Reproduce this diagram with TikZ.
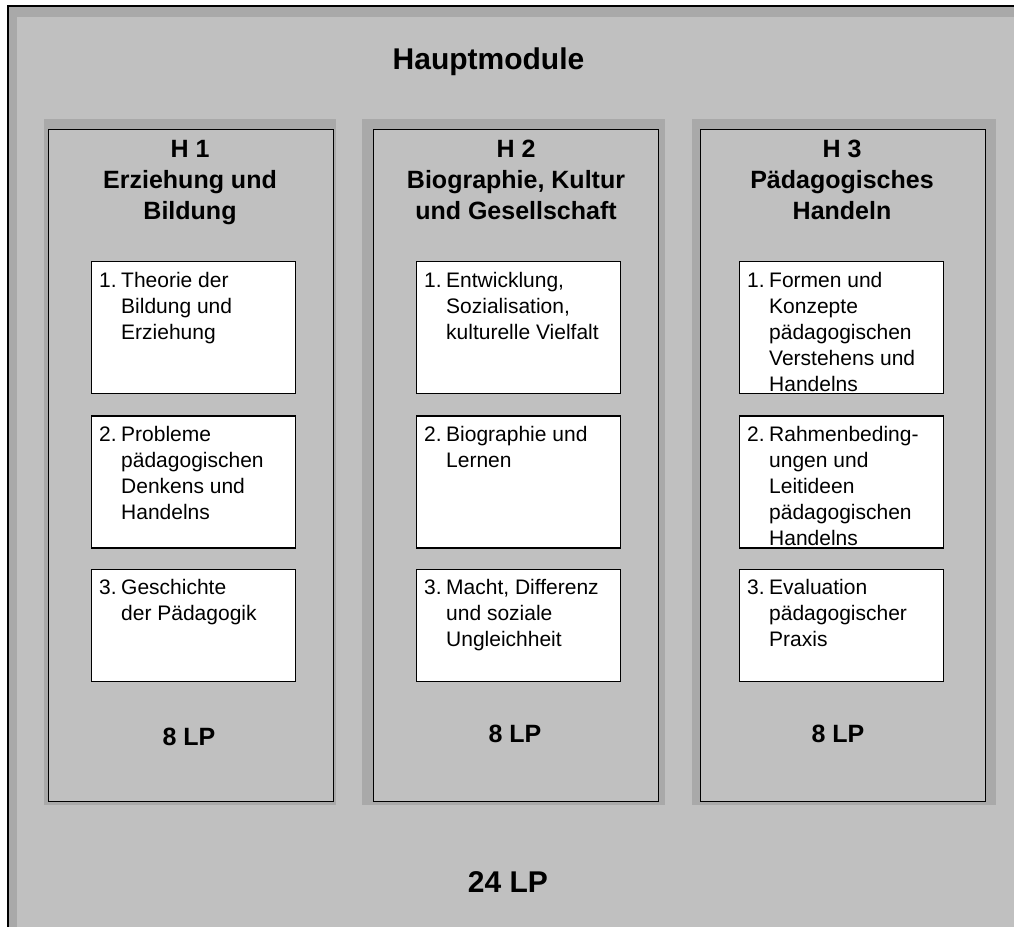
\documentclass[tikz,border=0pt]{standalone}
\usepackage{fontspec}
\setmainfont{Liberation Sans}
\usetikzlibrary{positioning}
\definecolor{panelgray}{HTML}{C0C0C0}
\definecolor{shadegray}{HTML}{A9A9A9}
\newcommand{\modtext}[2]{\makebox[22pt][l]{#1}\begin{tabular}[t]{@{}l@{}}#2\end{tabular}}

\begin{document}
\begin{tikzpicture}[x=1pt,y=-1pt,
  colbox/.style={draw,line width=1.3pt,fill=panelgray,anchor=north west,inner sep=0pt,
                 minimum width=285pt,minimum height=672pt},
  modbox/.style={draw,line width=1.3pt,fill=white,anchor=north west,inner sep=0pt,
                 minimum width=204pt,minimum height=132pt},
  modtext/.style={anchor=north west,inner sep=0pt,font=\fontsize{21}{26}\selectfont},
  head/.style={anchor=north,inner sep=0pt,align=center,
               font=\bfseries\fontsize{25}{31}\selectfont},
  lp/.style={anchor=base,inner sep=0pt,font=\bfseries\fontsize{25}{31}\selectfont},
  biglp/.style={lp,font=\bfseries\fontsize{30}{36}\selectfont},
  node distance=20pt]
\useasboundingbox (0,0) rectangle (1014,926);
\clip (0,0) rectangle (1014,926);
% outer frame
\fill[shadegray] (8,6) rectangle (1020,940);
\fill[panelgray] (17,17) rectangle (1020,940);
\draw[line width=1.5pt] (8,940) -- (8,6) -- (1020,6);
\node[biglp] (title) at (488.5,69) {Hauptmodule};
% column shadows
\fill[shadegray] (44,119) rectangle (336,805);
\fill[shadegray] (362,119) rectangle (665,805);
\fill[shadegray] (692,119) rectangle (996,805);
% columns
\node[colbox] (h1) at (48,129) {};
\node[colbox] (h2) at (373,129) {};
\node[colbox] (h3) at (700,129) {};
\node[head] (h1head) at (190,140) {H 1\\Erziehung und\\Bildung};
\node[head] (h2head) at (516,140) {H 2\\Biographie, Kultur\\und Gesellschaft};
\node[head] (h3head) at (842,140) {H 3\\Pädagogisches\\Handeln};
% module boxes
\node[modbox] (h1a) at (91,261) {};
\node[modbox,below=21pt of h1a] (h1b) {};
\node[modbox,below=of h1b,minimum height=112pt] (h1c) {};
\node[modbox] (h2a) at (416,261) {};
\node[modbox,below=21pt of h2a] (h2b) {};
\node[modbox,below=of h2b,minimum height=112pt] (h2c) {};
\node[modbox] (h3a) at (739,261) {};
\node[modbox,below=21pt of h3a] (h3b) {};
\node[modbox,below=of h3b,minimum height=112pt] (h3c) {};
% module texts
\node[modtext] (h1at) at ([xshift=8pt,yshift=-7.8pt]h1a.north west)
  {\modtext{1.}{Theorie der\\Bildung und\\Erziehung}};
\node[modtext] (h1bt) at ([xshift=8pt,yshift=-7.8pt]h1b.north west)
  {\modtext{2.}{Probleme\\pädagogischen\\Denkens und\\Handelns}};
\node[modtext] (h1ct) at ([xshift=8pt,yshift=-7.8pt]h1c.north west)
  {\modtext{3.}{Geschichte\\der Pädagogik}};
\node[modtext] (h2at) at ([xshift=8pt,yshift=-7.8pt]h2a.north west)
  {\modtext{1.}{Entwicklung,\\Sozialisation,\\kulturelle Vielfalt}};
\node[modtext] (h2bt) at ([xshift=8pt,yshift=-7.8pt]h2b.north west)
  {\modtext{2.}{Biographie und\\Lernen}};
\node[modtext] (h2ct) at ([xshift=8pt,yshift=-7.8pt]h2c.north west)
  {\modtext{3.}{Macht, Differenz\\und soziale\\Ungleichheit}};
\node[modtext] (h3at) at ([xshift=8pt,yshift=-7.8pt]h3a.north west)
  {\modtext{1.}{Formen und\\Konzepte\\pädagogischen\\Verstehens und\\Handelns}};
\node[modtext] (h3bt) at ([xshift=8pt,yshift=-7.8pt]h3b.north west)
  {\modtext{2.}{Rahmenbeding-\\ungen und\\Leitideen\\pädagogischen\\Handelns}};
\node[modtext] (h3ct) at ([xshift=8pt,yshift=-7.8pt]h3c.north west)
  {\modtext{3.}{Evaluation\\pädagogischer\\Praxis}};
% credit points
\node[lp] (h1lp) at (189,745) {8 LP};
\node[lp] (h2lp) at (515,742) {8 LP};
\node[lp] (h3lp) at (838,742) {8 LP};
\node[biglp] (total) at (508,892) {24 LP};
\end{tikzpicture}
\end{document}
